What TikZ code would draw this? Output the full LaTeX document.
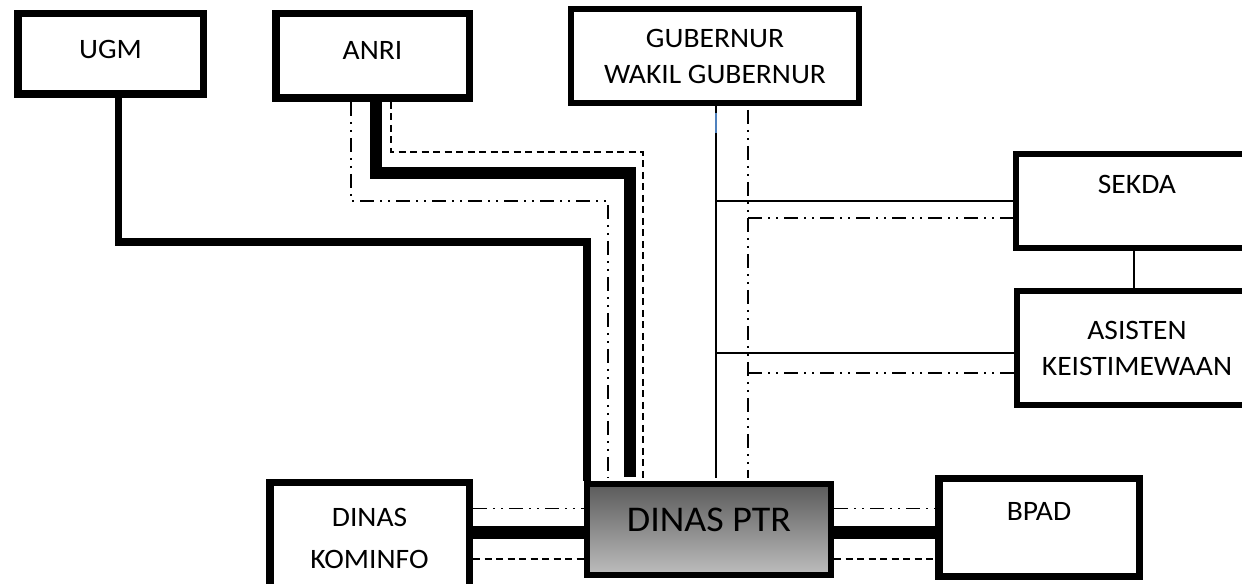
\documentclass[tikz,border=0pt]{standalone}
\usepackage{fontspec}
\setmainfont{Carlito}[FakeStretch=1.05]
\usepackage{tikz}
\usetikzlibrary{calc}

\newlength{\pxu}
\setlength{\pxu}{0.02cm}
\newcommand{\boxfont}{\fontsize{16}{20.5}\selectfont}
\newcommand{\wideboxfont}{\fontsize{16}{23.9}\selectfont}
\newcommand{\ptrfont}{\fontsize{20.6}{24}\selectfont}

\definecolor{ptrtop}{RGB}{90,90,90}
\definecolor{ptrbottom}{RGB}{190,190,190}
\definecolor{gubblue}{RGB}{79,129,189}

\tikzset{
  heavybox/.style={draw, line width=7.5\pxu, inner sep=0pt, font=\boxfont},
  lightbox/.style={draw, line width=6\pxu, inner sep=0pt, font=\boxfont},
  oneline/.style={text height=18.1\pxu, text depth=#1},
  thinline/.style={line width=1.6\pxu},
  dashdotline/.style={line width=1.6\pxu, dash pattern=on 14\pxu off 6\pxu on 2\pxu off 6\pxu on 2\pxu off 6\pxu},
  dashline/.style={line width=1.6\pxu, dash pattern=on 7\pxu off 4.5\pxu},
  boldline/.style={line width=7.5\pxu, line join=miter},
  fatline/.style={line width=12.5\pxu, line join=miter}
}

\begin{document}
\begin{tikzpicture}[x=0.02cm, y=-0.02cm]
  \useasboundingbox (0,0) rectangle (1242,584);
  \clip (0,0) rectangle (1242,584);

  % top row
  \node[heavybox, oneline=9\pxu, minimum width=185.5\pxu, minimum height=80.5\pxu] (ugm) at (110.5,54) {UGM};
  \node[heavybox, oneline=12\pxu, minimum width=193.5\pxu, minimum height=84.5\pxu] (anri) at (372.5,56) {ANRI};
  \node[lightbox, align=center, minimum width=288\pxu, minimum height=94\pxu] (gub) at (715,56) {GUBERNUR\\WAKIL GUBERNUR};

  % right column
  \node[lightbox, oneline=34\pxu, minimum width=242\pxu, minimum height=94\pxu] (sekda) at (1137,201) {SEKDA};
  \node[lightbox, align=center, minimum width=240\pxu, minimum height=114\pxu] (asisten) at (1137,348) {ASISTEN\\KEISTIMEWAAN};

  % bottom row
  \node[heavybox, align=center, font=\wideboxfont, minimum width=199.5\pxu, minimum height=111.5\pxu] (kominfo) at (369.5,538.5) {DINAS\\KOMINFO};
  \node[draw, line width=6\pxu, inner sep=0pt, top color=ptrtop, bottom color=ptrbottom, font=\ptrfont,
        text height=23.3\pxu, text depth=19\pxu, minimum width=244\pxu, minimum height=91\pxu] (ptr) at (709,529.5) {DINAS PTR};
  \node[heavybox, oneline=33\pxu, minimum width=200.5\pxu, minimum height=97.5\pxu] (bpad) at (1039,527.5) {BPAD};

  % UGM link
  \coordinate (ugmturn) at (587,242);
  \draw[boldline] ([xshift=8\pxu]ugm.south) |- (ugmturn) -- (ugmturn |- ptr.north);

  % ANRI links
  \coordinate (anrifat) at (630,173);
  \coordinate (anridd) at (608,201);
  \coordinate (anrids) at (643,152);
  \draw[fatline, shorten >=4\pxu] ([xshift=3.5\pxu]anri.south) |- (anrifat) -- (anrifat |- ptr.north);
  \draw[dashdotline, shorten >=3\pxu] ([xshift=-21.5\pxu]anri.south) |- (anridd) -- (anridd |- ptr.north);
  \draw[dashline, shorten >=3\pxu] ([xshift=18.5\pxu]anri.south) |- (anrids) -- (anrids |- ptr.north);

  % Gubernur links
  \coordinate (gubs) at ([xshift=1\pxu]gub.south);
  \coordinate (gubd) at ([xshift=33\pxu, yshift=-4\pxu]gub.south);
  \draw[thinline, shorten >=3\pxu] (gubs) -- (gubs |- ptr.north);
  \draw[thinline, gubblue] ([yshift=-7\pxu]gubs) -- ([yshift=-27\pxu]gubs);
  \draw[dashdotline, shorten >=3\pxu] (gubd) -- (gubd |- ptr.north);

  % Sekda and Asisten links
  \coordinate (sekdadd) at ([yshift=-17\pxu]sekda.west);
  \coordinate (asistens) at ([yshift=-5\pxu]asisten.west);
  \coordinate (asistendd) at ([yshift=-25\pxu]asisten.west);
  \draw[thinline] (gubs |- sekda.west) -- (sekda.west);
  \draw[dashdotline] (gubd |- sekdadd) -- (sekdadd);
  \draw[thinline] (gubs |- asistens) -- (asistens);
  \draw[dashdotline] (gubd |- asistendd) -- (asistendd);
  \draw[thinline] ([xshift=-3\pxu]sekda.south) -- ([xshift=-3\pxu]asisten.north);

  % Kominfo and BPAD links
  \coordinate (ptrdd) at ([yshift=21\pxu]ptr.center);
  \coordinate (ptrfat) at ([yshift=-3\pxu]ptr.center);
  \coordinate (ptrds) at ([yshift=-29.5\pxu]ptr.center);
  \draw[dashdotline] (kominfo.east |- ptrdd) -- (ptr.west |- ptrdd);
  \draw[fatline] (kominfo.east |- ptrfat) -- (ptr.west |- ptrfat);
  \draw[dashline] (kominfo.east |- ptrds) -- (ptr.west |- ptrds);
  \draw[dashdotline] (ptr.east |- ptrdd) -- (bpad.west |- ptrdd);
  \draw[fatline] (ptr.east |- ptrfat) -- (bpad.west |- ptrfat);
  \draw[dashline] (ptr.east |- ptrds) -- (bpad.west |- ptrds);
\end{tikzpicture}
\end{document}
